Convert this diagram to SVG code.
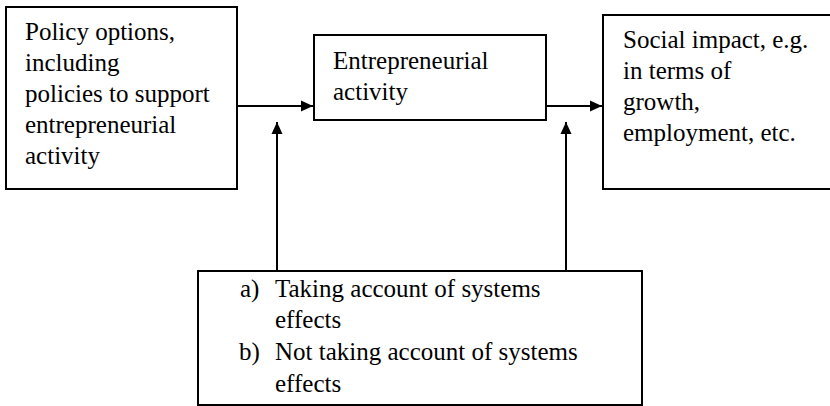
<svg xmlns="http://www.w3.org/2000/svg" width="830" height="406" viewBox="0 0 830 406">
  <defs>
    <style>
      .box { fill: #ffffff; stroke: #000000; stroke-width: 2; }
      .label { font-family: 'Liberation Serif', 'Times New Roman', Times, 'DejaVu Serif', serif; font-size: 25px; fill: #000000; }
      .link { fill: none; stroke: #000000; stroke-width: 2; }
    </style>
    <marker id="arrow" markerUnits="userSpaceOnUse" markerWidth="12" markerHeight="12" viewBox="0 0 12 12" refX="12" refY="6" orient="auto">
      <path d="M0,0.5 L12,6 L0,11.5 Z" fill="#000000"/>
    </marker>
  </defs>

  <rect width="830" height="406" fill="#ffffff"/>

  <!-- policy box -->
  <g id="policy" font-family="Liberation Serif, serif">
    <rect class="box" x="6" y="7" width="231" height="182"/>
    <text class="label" x="25" y="40">Policy options,</text>
    <text class="label" x="25" y="71">including</text>
    <text class="label" x="25" y="102">policies to support</text>
    <text class="label" x="25" y="133">entrepreneurial</text>
    <text class="label" x="25" y="164">activity</text>
  </g>

  <!-- activity box -->
  <g id="activity">
    <rect class="box" x="314" y="35" width="232" height="85"/>
    <text class="label" x="333" y="69">Entrepreneurial</text>
    <text class="label" x="333" y="100">activity</text>
  </g>

  <!-- impact box (runs off the right edge) -->
  <g id="impact">
    <rect class="box" x="603" y="15" width="240" height="174"/>
    <text class="label" x="623" y="48">Social impact, e.g.</text>
    <text class="label" x="623" y="79">in terms of</text>
    <text class="label" x="623" y="110">growth,</text>
    <text class="label" x="623" y="141">employment, etc.</text>
  </g>

  <!-- systems effects box -->
  <g id="systems">
    <rect class="box" x="198" y="271" width="444" height="134"/>
    <text class="label" x="240" y="297">a)</text>
    <text class="label" x="275" y="297">Taking account of systems</text>
    <text class="label" x="275" y="328">effects</text>
    <text class="label" x="239" y="360">b)</text>
    <text class="label" x="275" y="360">Not taking account of systems</text>
    <text class="label" x="275" y="392">effects</text>
  </g>

  <!-- connectors -->
  <g id="connectors">
    <line class="link" x1="237" y1="106" x2="313" y2="106" marker-end="url(#arrow)"/>
    <line class="link" x1="546" y1="106" x2="602" y2="106" marker-end="url(#arrow)"/>
    <line class="link" x1="277" y1="271" x2="277" y2="122" marker-end="url(#arrow)"/>
    <line class="link" x1="566" y1="271" x2="566" y2="122" marker-end="url(#arrow)"/>
  </g>
</svg>
